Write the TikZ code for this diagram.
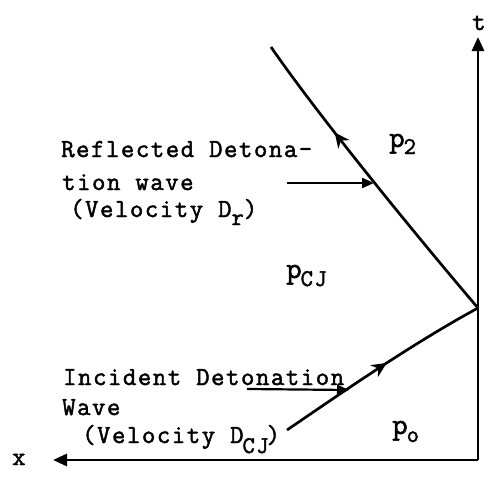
\documentclass[tikz,border=0pt]{standalone}
\usepackage{fontspec}
\setmonofont{Latin Modern Mono}[LetterSpace=6,FakeBold=1.8]
\usetikzlibrary{arrows.meta,decorations.markings}
\newcommand\lowsub[2]{\raisebox{-#1}{\fontsize{24}{24}\selectfont #2}}
\begin{document}
\begin{tikzpicture}[x=1pt,y=-1pt,
  lbl/.style={anchor=base west,inner sep=0pt,font=\ttfamily\fontsize{26}{26}\selectfont},
  plbl/.style={anchor=base west,inner sep=0pt,font=\ttfamily\fontsize{30}{30}\selectfont},
  axis/.style={line width=2.8pt,-{Triangle[length=14pt,width=12pt]}},
  wave/.style={line width=2.7pt},
  midarrow/.style={postaction={decorate},decoration={markings,
      mark=at position #1 with {\arrow{Stealth[length=15pt,width=14pt]}}}},
  ptr/.style={line width=2.2pt,-{Triangle[length=12pt,width=10pt]}},
]
\useasboundingbox (0,0) rectangle (491,477);
% axes
\coordinate (O) at (478,460);
\coordinate (T) at (478,37);
\coordinate (X) at (53,460);
\coordinate (R) at (478,308);
\coordinate (A) at (287,430);
\coordinate (B) at (271,47);
\coordinate (P1) at (287,183);
\coordinate (Q1) at (374,183);
\coordinate (P2) at (247,389);
\coordinate (Q2) at (349,390);
\draw[axis] (O) -- (T);
\draw[axis] (O) -- (X);
\node[lbl] (tl) at (472,30) {t};
\node[lbl] (xl) at (12,465) {x};
% waves
\draw[wave,midarrow=0.53] (A) .. controls (340,394) and (410,345) .. (R);
\draw[wave,midarrow=0.68] (R) .. controls (420,240) and (320,118) .. (B);
% pointer arrows
\draw[ptr] (P1) -- (Q1);
\draw[ptr] (P2) -- (Q2);
% labels
\node[lbl] (r1) at (61,157) {Reflected Detona-};
\node[lbl] (r2) at (62,190) {tion wave};
\node[lbl] (r3) at (70,217) {(Velocity D\lowsub{8pt}{r})};
\node[lbl] (i1) at (63,385) {Incident Detonation};
\node[lbl] (i2) at (62,415) {Wave};
\node[lbl] (i3) at (82,443) {(Velocity D\lowsub{10pt}{\kern-1pt CJ}\kern-2pt)};
\node[plbl] (p2) at (389,147) {p\kern-1pt\lowsub{7pt}{2}};
\node[plbl] (pcj) at (286,278) {p\kern-1pt\lowsub{8pt}{CJ}};
\node[plbl] (po) at (392,434) {p\kern-1pt\lowsub{8pt}{o}};
\end{tikzpicture}
\end{document}
